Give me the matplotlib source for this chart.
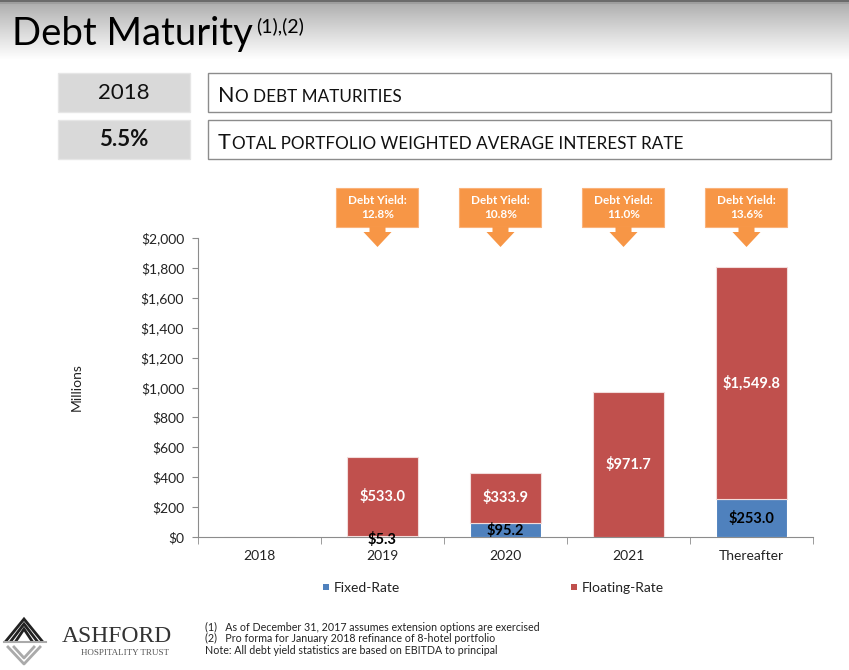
import numpy as np
import matplotlib
matplotlib.use("Agg")
import matplotlib.pyplot as plt
from matplotlib.patches import Rectangle, Polygon

# ---------------- data ----------------
categories = ["2018", "2019", "2020", "2021", "Thereafter"]
fixed_rate = [0.0, 5.3, 95.2, 0.0, 253.0]
floating_rate = [0.0, 533.0, 333.9, 971.7, 1549.8]
fixed_labels = [None, "$5.3", "$95.2", None, "$253.0"]
floating_labels = [None, "$533.0", "$333.9", "$971.7", "$1,549.8"]
debt_yields = [None, "12.8%", "10.8%", "11.0%", "13.6%"]
y_ticks = [0, 200, 400, 600, 800, 1000, 1200, 1400, 1600, 1800, 2000]
legend_labels = ["Fixed-Rate", "Floating-Rate"]
footnotes = ["(1)   As of December 31, 2017 assumes extension options are exercised",
             "(2)   Pro forma for January 2018 refinance of 8-hotel portfolio",
             "Note: All debt yield statistics are based on EBITDA to principal"]

BLUE = "#4F81BD"
RED = "#C0504D"
ORANGE = "#F79646"
FONT = ["Lato", "DejaVu Sans"]
plt.rcParams['font.family'] = FONT

W, H = 849, 670
fig = plt.figure(figsize=(W / 100, H / 100), dpi=100)

# overlay axes in pixel coordinates
ov = fig.add_axes([0, 0, 1, 1], zorder=0)
ov.axis("off")

# header gradient
n = 60
cols = np.empty((n, 1, 3))
top_c = np.array([0.66, 0.66, 0.66])
bot_c = np.array([1.0, 1.0, 1.0])
for i in range(n):
    t = (i / (n - 1)) ** 0.9
    cols[i, 0] = top_c * (1 - t) + bot_c * t
ov.imshow(cols, extent=[0, W, 60, 0], aspect="auto", zorder=0)
ov.imshow(np.array([[[0.42, 0.42, 0.42]], [[0.62, 0.62, 0.62]]]), extent=[0, W, 4, 0], aspect="auto", zorder=0)
ov.set_xlim(0, W)
ov.set_ylim(H, 0)

# title
tt = ov.text(12, 45, "Debt Maturity", fontsize=27.5, color="black", va="baseline", ha="left")
fig.canvas.draw()
tx_end = tt.get_window_extent().x1 / fig.dpi * 100
ov.text(tx_end + 3, 32, "(1),(2)", fontsize=14, color="black", va="baseline", ha="left")

# info boxes
for (y0, left_txt, bold, right_first, right_rest) in [
        (73, "2018", False, "N", "O DEBT MATURITIES"),
        (120, "5.5%", True, "T", "OTAL PORTFOLIO WEIGHTED AVERAGE INTEREST RATE")]:
    ov.add_patch(Rectangle((58, y0), 132, 39, facecolor="#D9D9D9", edgecolor="#E6E6E6", lw=1))
    ov.add_patch(Rectangle((208, y0), 623, 39, facecolor="white", edgecolor="#8C8C8C", lw=1))
    ov.text(124, y0 + 20, left_txt, fontsize=16, ha="center", va="center",
            fontweight="bold" if bold else "normal", color="#111111")
    t1 = ov.text(218, y0 + 29, right_first, fontsize=15.5, ha="left", va="baseline", color="#111111")
    fig.canvas.draw()
    bb = t1.get_window_extent()
    x_next = bb.x1 / fig.dpi * 100 + 1
    ov.text(x_next, y0 + 29, right_rest, fontsize=12.3, ha="left", va="baseline", color="#111111")

# ---------------- chart ----------------
ax = fig.add_axes([198 / W, 1 - 537 / H, 615 / W, 299 / H], zorder=2)
ax.set_facecolor("none")
x = np.arange(len(categories))
ax.bar(x, fixed_rate, width=0.58, color=BLUE, edgecolor="white", linewidth=0.8, zorder=3)
ax.bar(x, floating_rate, width=0.58, bottom=fixed_rate, color=RED, edgecolor="#F2DCDB", linewidth=0.8, zorder=3)

for i in range(len(categories)):
    if floating_labels[i]:
        yc = fixed_rate[i] + floating_rate[i] / 2
        ax.text(x[i], yc, floating_labels[i], ha="center", va="center", color="white",
                fontsize=10.5, fontweight="bold", zorder=5)
    if fixed_labels[i]:
        if fixed_rate[i] < 50:
            yc = -15
        elif fixed_rate[i] < 150:
            yc = fixed_rate[i] / 2 - 5
        else:
            yc = fixed_rate[i] / 2
        ax.text(x[i], yc, fixed_labels[i], ha="center", va="center", color="black",
                fontsize=10.5, fontweight="bold", zorder=5)

ax.set_xlim(-0.5, len(categories) - 0.5)
ax.set_ylim(0, 2000)
ax.set_yticks(y_ticks)
ax.set_yticklabels([f"${v:,.0f}" for v in y_ticks], fontsize=10, color="#222222")
ax.set_xticks(x)
ax.set_xticklabels(categories, fontsize=10, color="#222222")
ax.set_xticks(np.arange(len(categories) + 1) - 0.5, minor=True)
ax.tick_params(axis="x", which="major", length=0, pad=9)
ax.tick_params(axis="x", which="minor", length=5, color="#8C8C8C", direction="out")
ax.tick_params(axis="y", length=4, color="#8C8C8C", pad=6)
for s in ["top", "right"]:
    ax.spines[s].set_visible(False)
ax.spines["left"].set_color("#8C8C8C")
ax.spines["bottom"].set_color("#8C8C8C")
ax.set_ylabel("Millions", fontsize=10, color="#222222", labelpad=42)

# callouts
for i, dy in enumerate(debt_yields):
    if dy is None:
        continue
    disp = ax.transData.transform((x[i], 0))
    cx = disp[0] / fig.dpi * 100 - 5
    ov.add_patch(Rectangle((cx - 41, 188), 82, 39, facecolor=ORANGE, edgecolor="#FAB27A", lw=0.8, zorder=3))
    ov.add_patch(Polygon([(cx - 8, 227), (cx + 8, 227), (cx + 8, 232), (cx + 14, 232),
                          (cx, 247), (cx - 14, 232), (cx - 8, 232)],
                         closed=True, facecolor=ORANGE, edgecolor="none", zorder=3))
    ov.text(cx, 201, "Debt Yield:", ha="center", va="center", color="white", fontsize=8.5,
            fontweight="bold", zorder=4)
    ov.text(cx, 214, dy, ha="center", va="center", color="white", fontsize=8.5,
            fontweight="bold", zorder=4)

# legend
ov.add_patch(Rectangle((323, 584), 6, 6, facecolor=BLUE, edgecolor="none"))
ov.text(334, 588, legend_labels[0], fontsize=10, ha="left", va="center", color="#222222")
ov.add_patch(Rectangle((571, 584), 6, 6, facecolor=RED, edgecolor="none"))
ov.text(582, 588, legend_labels[1], fontsize=10, ha="left", va="center", color="#222222")

# logo
for off in [0, 5, 10]:
    ov.plot([6 + off, 24, 42 - off], [641, 619 + off, 641], color="#222222", lw=2.0,
            solid_joinstyle="miter")
ov.plot([4, 46], [642, 642], color="#AAAAAA", lw=1.5)
for off in [0, 6]:
    ov.plot([8 + off, 24, 40 - off], [647, 664 - off, 647], color="#AAAAAA", lw=2.0)
ov.text(62, 642, "ASHFORD", fontsize=17, family=["Liberation Serif", "DejaVu Serif"], color="#333333",
        ha="left", va="baseline")
ov.text(125, 655, "HOSPITALITY TRUST", fontsize=6.5, family=["Liberation Serif", "DejaVu Serif"],
        color="#555555", ha="center", va="baseline")

# footnotes
for j, ftxt in enumerate(footnotes):
    ov.text(205, 627 + j * 11.5, ftxt, fontsize=7.7, ha="left", va="center", color="#222222")

fig.savefig("out.png", dpi=100)
